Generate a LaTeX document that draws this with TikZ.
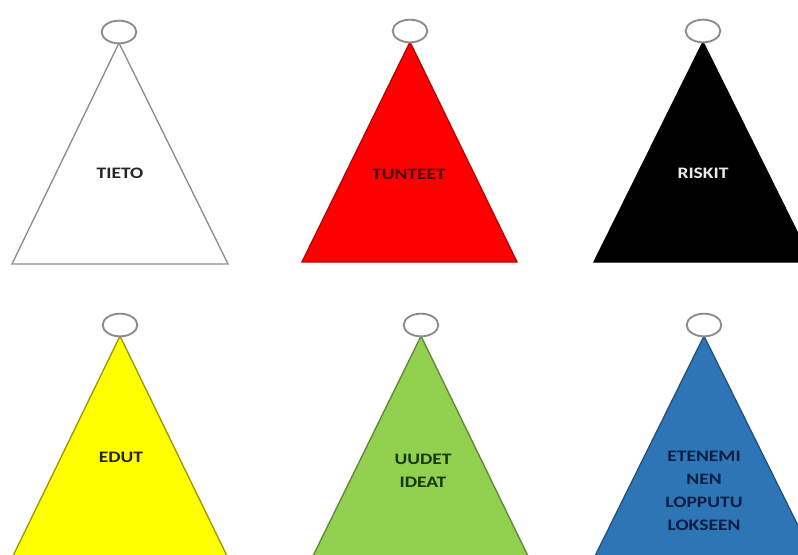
\documentclass[tikz,border=0pt]{standalone}
\usepackage{fontspec}
\usetikzlibrary{shapes.geometric}
\setmainfont{Carlito}
\definecolor{hatred}{HTML}{FF0000}
\definecolor{hatyellow}{HTML}{FFFF00}
\definecolor{hatgreen}{HTML}{92D050}
\definecolor{hatblue}{HTML}{2E75B6}
\definecolor{rimgray}{HTML}{8C8C8C}
\tikzset{
  hat/.style={line width=1pt, line join=miter},
  pompom/.style={draw=rimgray, fill=white, line width=1.4pt, ellipse, minimum width=26pt, minimum height=17pt, inner sep=0pt},
  hatlabel/.style={font=\bfseries\fontsize{12}{17.25}\selectfont, align=center, xscale=1.22, transform shape, inner sep=0pt}
}
\begin{document}
\begin{tikzpicture}[x=0.75pt, y=-0.75pt]
\useasboundingbox (0,0) rectangle (798,554);
\clip (0,0) rectangle (798,554);
\fill[white] (0,0) rectangle (798,554);
% top row
\coordinate (a1) at (119,43);
\coordinate (l1) at (12,264);
\coordinate (r1) at (228,264);
\draw[hat, draw=rimgray, fill=white] (a1) -- (l1) -- (r1) -- cycle;
\coordinate (a2) at (410,42);
\coordinate (l2) at (302,262);
\coordinate (r2) at (517,262);
\draw[hat, draw=hatred!75!black, fill=hatred] (a2) -- (l2) -- (r2) -- cycle;
\coordinate (a3) at (703,42);
\coordinate (l3) at (594,262);
\coordinate (r3) at (812,262);
\draw[hat, draw=black, fill=black] (a3) -- (l3) -- (r3) -- cycle;
% bottom row
\coordinate (a4) at (120,336);
\coordinate (l4) at (12,558);
\coordinate (r4) at (228,558);
\draw[hat, draw=hatyellow!60!black, fill=hatyellow] (a4) -- (l4) -- (r4) -- cycle;
\coordinate (a5) at (421,336);
\coordinate (l5) at (312,558);
\coordinate (r5) at (529,558);
\draw[hat, draw=hatgreen!65!black, fill=hatgreen] (a5) -- (l5) -- (r5) -- cycle;
\coordinate (a6) at (704,336);
\coordinate (l6) at (594,558);
\coordinate (r6) at (814,558);
\draw[hat, draw=hatblue!70!black, fill=hatblue] (a6) -- (l6) -- (r6) -- cycle;
% pompoms
\node[pompom] (p1) at (119,32) {};
\node[pompom] (p2) at (410,31) {};
\node[pompom] (p3) at (703,31) {};
\node[pompom] (p4) at (120,325) {};
\node[pompom] (p5) at (421,325) {};
\node[pompom] (p6) at (704,325) {};
% labels
\node[hatlabel, text={black!85}] (t1) at (120,173) {TIETO};
\node[hatlabel, text={rgb,255:red,70;green,0;blue,0}] (t2) at (409,174) {TUNTEET};
\node[hatlabel, text=white!92!black] (t3) at (703,173) {RISKIT};
\node[hatlabel, text={rgb,255:red,40;green,40;blue,0}] (t4) at (121,457) {EDUT};
\node[hatlabel, text={rgb,255:red,25;green,55;blue,10}] (t5) at (423,471) {UUDET\\IDEAT};
\node[hatlabel, text={rgb,255:red,10;green,30;blue,70}] (t6) at (704,491) {ETENEMI\\NEN\\LOPPUTU\\LOKSEEN};
\end{tikzpicture}
\end{document}
